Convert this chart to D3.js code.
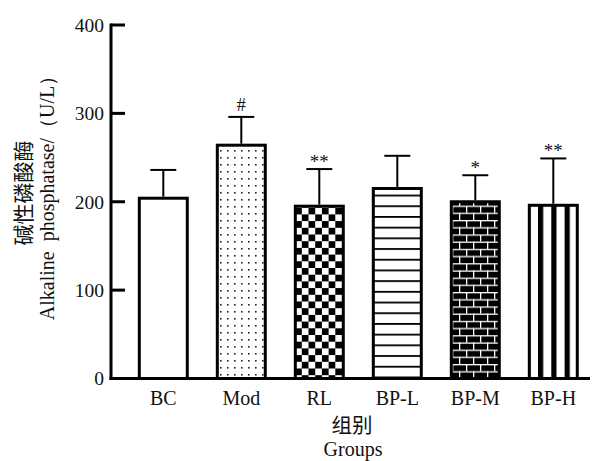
<!DOCTYPE html>
<html>
<head>
<meta charset="utf-8">
<script src="https://cdn.jsdelivr.net/npm/d3@7"></script>
<style>
html,body{margin:0;padding:0;background:#fff;}
svg{display:block;}
text{font-family:"Liberation Serif","Times New Roman",serif;fill:#111;}
text.cjk{font-family:"Noto Sans CJK SC","Noto Sans CJK JP",sans-serif;}
</style>
</head>
<body>
<script>
const categories = ["BC", "Mod", "RL", "BP-L", "BP-M", "BP-H"];
const means = [204, 264, 195, 215, 200, 196];
const sds = [32, 32, 42, 37, 30, 53];
const marks = ["", "#", "**", "", "*", "**"];
const patterns = ["none", "dots", "checker", "hlines", "bricks", "vstripes"];
const yTicks = [0, 100, 200, 300, 400];

const W = 597, H = 461;
const svg = d3.select("body").append("svg").attr("width", W).attr("height", H);
const defs = svg.append("defs");

// patterns
const pDots = defs.append("pattern").attr("id", "dots").attr("patternUnits", "userSpaceOnUse")
  .attr("width", 7).attr("height", 7);
pDots.append("rect").attr("width", 7).attr("height", 7).attr("fill", "#fff");
pDots.append("rect").attr("x", 3).attr("y", 3).attr("width", 1.6).attr("height", 1.6).attr("fill", "#222");

const pCh = defs.append("pattern").attr("id", "checker").attr("patternUnits", "userSpaceOnUse")
  .attr("width", 13.4).attr("height", 13.4).attr("x", 141).attr("y", 0);
pCh.append("rect").attr("width", 13.4).attr("height", 13.4).attr("fill", "#fff");
pCh.append("rect").attr("width", 6.7).attr("height", 6.7).attr("fill", "#000");
pCh.append("rect").attr("x", 6.7).attr("y", 6.7).attr("width", 6.7).attr("height", 6.7).attr("fill", "#000");

const pH = defs.append("pattern").attr("id", "hlines").attr("patternUnits", "userSpaceOnUse")
  .attr("width", 10).attr("height", 10.7).attr("y", 2);
pH.append("rect").attr("width", 10).attr("height", 10.7).attr("fill", "#fff");
pH.append("rect").attr("y", 0).attr("width", 10).attr("height", 1.8).attr("fill", "#000");

const pB = defs.append("pattern").attr("id", "bricks").attr("patternUnits", "userSpaceOnUse")
  .attr("width", 14).attr("height", 14.4).attr("x", 452).attr("y", 4);
pB.append("rect").attr("width", 14).attr("height", 14.4).attr("fill", "#000");
pB.append("rect").attr("y", 0).attr("width", 14).attr("height", 1.3).attr("fill", "#fff");
pB.append("rect").attr("y", 7.2).attr("width", 14).attr("height", 1.3).attr("fill", "#fff");
pB.append("rect").attr("x", 0).attr("y", 0).attr("width", 1.3).attr("height", 7.2).attr("fill", "#fff");
pB.append("rect").attr("x", 7).attr("y", 7.2).attr("width", 1.3).attr("height", 7.2).attr("fill", "#fff");

const pV = defs.append("pattern").attr("id", "vstripes").attr("patternUnits", "userSpaceOnUse")
  .attr("width", 13.3).attr("height", 10).attr("x", 538);
pV.append("rect").attr("width", 13.3).attr("height", 10).attr("fill", "#fff");
pV.append("rect").attr("x", 0).attr("width", 5.2).attr("height", 10).attr("fill", "#000");

// scales
const x = d3.scaleBand().domain(categories).range([111, 605.6]).paddingInner(0.385).paddingOuter(0.363);
const y = d3.scaleLinear().domain([0, 400]).range([378.5, 25]);

const data = categories.map((c, i) => ({c, m: means[i], sd: sds[i], mark: marks[i], pat: patterns[i]}));

// bars
svg.selectAll("rect.bar").data(data).enter().append("rect")
  .attr("class", "bar")
  .attr("x", d => x(d.c))
  .attr("y", d => y(d.m))
  .attr("width", x.bandwidth())
  .attr("height", d => y(0) - y(d.m))
  .attr("fill", d => d.pat === "none" ? "#fff" : `url(#${d.pat})`)
  .attr("stroke", "#000").attr("stroke-width", 3);

// error bars
const capW = 26;
const eb = svg.selectAll("g.eb").data(data).enter().append("g");
eb.append("line")
  .attr("x1", d => x(d.c) + x.bandwidth() / 2).attr("x2", d => x(d.c) + x.bandwidth() / 2)
  .attr("y1", d => y(d.m) - 1.5).attr("y2", d => y(d.m + d.sd))
  .attr("stroke", "#000").attr("stroke-width", 2);
eb.append("line")
  .attr("x1", d => x(d.c) + x.bandwidth() / 2 - capW / 2).attr("x2", d => x(d.c) + x.bandwidth() / 2 + capW / 2)
  .attr("y1", d => y(d.m + d.sd)).attr("y2", d => y(d.m + d.sd))
  .attr("stroke", "#000").attr("stroke-width", 2);

// marks
svg.selectAll("text.mark").data(data.filter(d => d.mark)).enter().append("text")
  .attr("class", "mark")
  .attr("x", d => x(d.c) + x.bandwidth() / 2)
  .attr("y", d => y(d.m + d.sd) - (d.mark === "#" ? 6 : 1))
  .attr("text-anchor", "middle")
  .attr("font-size", d => d.mark === "#" ? 18 : 19)
  .text(d => d.mark);

// y axis
const yAxis = d3.axisLeft(y).tickValues(yTicks).tickSize(0).tickPadding(7);
const gy = svg.append("g").attr("transform", "translate(111,0)").call(yAxis);
gy.select(".domain").remove();
gy.selectAll("text").attr("font-size", 19.5).attr("fill", "#111");
svg.selectAll("line.ytick").data(yTicks).enter().append("line")
  .attr("class", "ytick")
  .attr("x1", 111).attr("x2", 125)
  .attr("y1", d => y(d)).attr("y2", d => y(d))
  .attr("stroke", "#000").attr("stroke-width", 3);
svg.append("line").attr("x1", 111).attr("x2", 111).attr("y1", y(400) - 1.5).attr("y2", y(0) + 1.5)
  .attr("stroke", "#000").attr("stroke-width", 3);

// x axis
svg.append("line").attr("x1", 109.5).attr("x2", 590).attr("y1", y(0)).attr("y2", y(0))
  .attr("stroke", "#000").attr("stroke-width", 3);
const xAxis = d3.axisBottom(x).tickSize(0).tickPadding(12);
const gx = svg.append("g").attr("transform", `translate(0,${y(0)})`).call(xAxis);
gx.select(".domain").remove();
gx.selectAll("text").attr("font-size", 20).attr("fill", "#111");

// axis titles
svg.append("text").attr("class", "cjk").attr("x", 352).attr("y", 433)
  .attr("text-anchor", "middle").attr("font-size", 20.5).text("组别");
svg.append("text").attr("x", 353).attr("y", 456)
  .attr("text-anchor", "middle").attr("font-size", 20).text("Groups");

svg.append("text").attr("class", "cjk")
  .attr("transform", "translate(31,193) rotate(-90)")
  .attr("text-anchor", "middle").attr("font-size", 21).text("碱性磷酸酶");
svg.append("text")
  .attr("transform", "translate(54,193) rotate(-90)")
  .attr("text-anchor", "middle").attr("font-size", 20)
  .attr("xml:space", "preserve").style("white-space", "pre")
  .text("Alkaline  phosphatase/（U/L）");
</script>
</body>
</html>
